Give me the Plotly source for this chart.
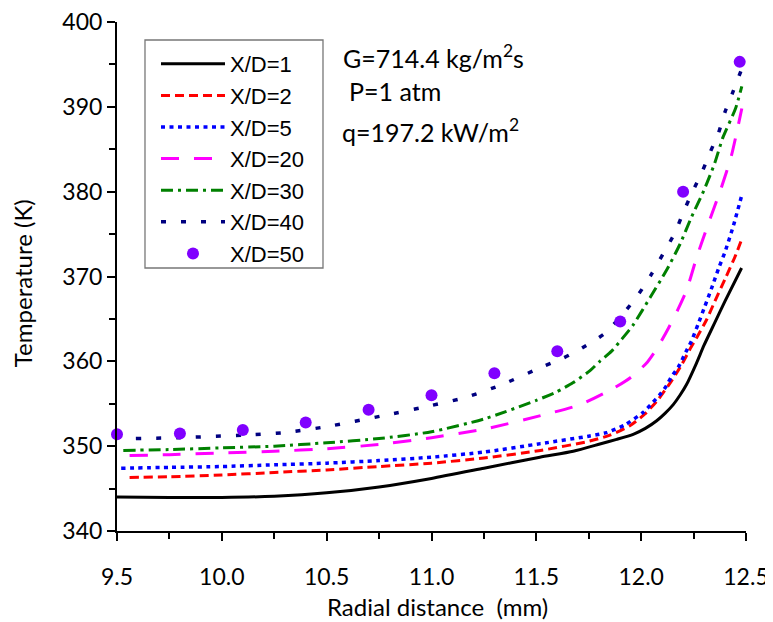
import plotly.graph_objects as go

# ---- data ----
x_xd1 = [9.5, 9.75, 10.0, 10.25, 10.5, 10.75, 11.0, 11.25, 11.517, 11.676, 11.803, 11.883, 11.962, 12.02, 12.074, 12.115, 12.153, 12.185, 12.217, 12.264, 12.30, 12.35, 12.40, 12.479]
t_xd1 = [344.0, 343.95, 343.95, 344.1, 344.5, 345.2, 346.2, 347.4, 348.7, 349.4, 350.25, 350.8, 351.4, 352.1, 353.0, 353.9, 354.9, 356.0, 357.3, 359.8, 361.9, 364.5, 367.1, 371.0]

x_xd2 = [9.56, 9.75, 10.0, 10.25, 10.5, 10.75, 11.0, 11.25, 11.52, 11.755, 11.851, 11.946, 12.018, 12.081, 12.145, 12.193, 12.232, 12.272, 12.312, 12.35, 12.40, 12.447, 12.48]
t_xd2 = [346.3, 346.4, 346.6, 346.9, 347.2, 347.6, 348.0, 348.6, 349.5, 350.6, 351.3, 352.4, 353.8, 355.5, 357.7, 359.6, 361.4, 363.1, 364.9, 367.0, 369.7, 372.3, 374.4]

x_xd5 = [9.52, 9.75, 10.0, 10.25, 10.5, 10.75, 11.0, 11.25, 11.52, 11.755, 11.835, 11.922, 12.01, 12.05, 12.09, 12.12, 12.145, 12.177, 12.213, 12.24, 12.272, 12.304, 12.34, 12.37, 12.40, 12.44, 12.48]
t_xd5 = [347.4, 347.5, 347.6, 347.8, 348.0, 348.3, 348.7, 349.3, 350.3, 351.2, 351.6, 352.5, 354.0, 355.0, 356.1, 357.1, 358.2, 359.3, 361.1, 362.4, 364.4, 366.5, 368.9, 371.0, 372.9, 376.0, 379.6]

x_xd20 = [9.56, 9.75, 10.0, 10.25, 10.5, 10.75, 11.0, 11.25, 11.52, 11.71, 11.867, 11.95, 12.026, 12.08, 12.13, 12.175, 12.217, 12.264, 12.32, 12.38, 12.43, 12.48]
t_xd20 = [348.9, 349.0, 349.2, 349.4, 349.7, 350.2, 351.0, 352.0, 353.6, 354.9, 356.8, 358.1, 359.8, 361.7, 363.9, 366.1, 368.4, 372.2, 376.2, 380.3, 384.2, 389.8]

x_xd30 = [9.53, 9.75, 10.0, 10.25, 10.5, 10.75, 11.0, 11.25, 11.5, 11.597, 11.676, 11.756, 11.803, 11.859, 11.907, 11.962, 12.042, 12.12, 12.185, 12.24, 12.30, 12.35, 12.39, 12.45, 12.48]
t_xd30 = [349.5, 349.6, 349.8, 350.0, 350.4, 350.9, 351.7, 353.2, 355.4, 356.4, 357.5, 358.9, 360.0, 361.2, 362.6, 364.3, 367.5, 370.7, 373.8, 377.0, 380.2, 383.3, 386.4, 389.8, 392.4]

x_xd40 = [9.59, 9.8, 10.1, 10.3, 10.5, 10.77, 11.0, 11.17, 11.34, 11.533, 11.63, 11.72, 11.827, 11.914, 11.99, 12.05, 12.105, 12.16, 12.20, 12.245, 12.29, 12.33, 12.37, 12.40, 12.44, 12.48]
t_xd40 = [350.9, 351.0, 351.3, 351.6, 352.3, 353.6, 354.8, 355.8, 357.3, 359.4, 360.4, 361.6, 363.3, 365.6, 368.0, 370.3, 372.7, 375.1, 377.5, 380.0, 382.3, 384.7, 387.0, 389.4, 391.9, 394.5]

x_xd50 = [9.5, 9.8, 10.1, 10.4, 10.7, 11.0, 11.3, 11.6, 11.9, 12.2, 12.47]
t_xd50 = [351.4, 351.5, 351.9, 352.8, 354.3, 356.0, 358.6, 361.2, 364.7, 380.0, 395.3]

x_ticks = [9.5, 10.0, 10.5, 11.0, 11.5, 12.0, 12.5]
x_tick_labels = ["9.5", "10.0", "10.5", "11.0", "11.5", "12.0", "12.5"]
y_ticks = [340, 350, 360, 370, 380, 390, 400]

fig = go.Figure()

line_series = [
    ("X/D=1", x_xd1, t_xd1, "#000000", "solid", 3),
    ("X/D=2", x_xd2, t_xd2, "#FF0000", "9px,5px", 3),
    ("X/D=5", x_xd5, t_xd5, "#0000FF", "4px,4.5px", 3.5),
    ("X/D=20", x_xd20, t_xd20, "#FF00FF", "18px,15px", 3),
    ("X/D=30", x_xd30, t_xd30, "#008000", "12px,5px,3px,5px", 3),
    ("X/D=40", x_xd40, t_xd40, "#000080", "5px,15px", 3.5),
]
for name, xs, ys, col, dash, w in line_series:
    fig.add_trace(go.Scatter(
        x=xs, y=ys, name=name, mode="lines",
        line=dict(color=col, dash=dash, width=w, shape="spline", smoothing=0.6),
    ))

fig.add_trace(go.Scatter(
    x=x_xd50, y=t_xd50, name="X/D=50", mode="markers",
    marker=dict(color="#8000FF", size=12),
    cliponaxis=False,
))

title_font = dict(family="Lato, sans-serif", size=24, color="black")
tick_font = dict(family="Lato, sans-serif", size=23, color="black")

# page has an 8px body margin: figure is shifted by (8, 8)
fig.update_layout(
    width=765, height=614,
    margin=dict(l=109, r=27, t=14, b=91),
    plot_bgcolor="white", paper_bgcolor="white",
    showlegend=True,
    legend=dict(
        x=0.062, y=0.9587, xanchor="left", yanchor="top",
        borderwidth=0, bgcolor="rgba(255,255,255,0)",
        font=dict(family="Liberation Sans, Arial, sans-serif", size=22, color="black"),
        itemwidth=64, tracegroupgap=0,
    ),
    xaxis=dict(
        range=[9.5, 12.5], tickmode="array", tickvals=x_ticks, ticktext=x_tick_labels,
        automargin=False, ticklabeloverflow="allow",
        showgrid=False, zeroline=False, showline=True, linecolor="black", linewidth=2,
        ticks="outside", ticklen=8, tickwidth=2, tickcolor="black",
        ticklabelstandoff=16,
        minor=dict(ticks="outside", dtick=0.25, ticklen=6, tickwidth=2, tickcolor="black", showgrid=False),
        tickfont=tick_font,
    ),
    yaxis=dict(
        range=[340, 400], tickmode="array", tickvals=y_ticks,
        automargin=False, ticklabeloverflow="allow",
        showgrid=False, zeroline=False, showline=True, linecolor="black", linewidth=2,
        ticks="outside", ticklen=8, tickwidth=2, tickcolor="black",
        minor=dict(ticks="outside", dtick=5, ticklen=6, tickwidth=2, tickcolor="black", showgrid=False),
        tickfont=tick_font,
    ),
)

# legend frame
fig.add_shape(type="rect", xref="paper", yref="paper",
              x0=0.0445, x1=0.3275, y0=0.5167, y1=0.9646,
              line=dict(color="#777777", width=1.3), fillcolor="rgba(0,0,0,0)")

# axis titles
fig.add_annotation(x=0.509, y=-0.149, xref="paper", yref="paper", xanchor="center", yanchor="middle",
                   text="Radial distance  (mm)", showarrow=False, font=title_font)
fig.add_annotation(x=-0.151, y=0.487, xref="paper", yref="paper", xanchor="center", yanchor="middle",
                   text="Temperature (K)", textangle=-90, showarrow=False, font=title_font)

ann_font = dict(family="Lato, sans-serif", size=25, color="black")
fig.add_annotation(x=0.356, y=0.9332, xref="paper", yref="paper", xanchor="left", yanchor="middle",
                   text="G=714.4 kg/m<sup>2</sup>s", showarrow=False, font=ann_font)
fig.add_annotation(x=0.366, y=0.8644, xref="paper", yref="paper", xanchor="left", yanchor="middle",
                   text="P=1 atm", showarrow=False, font=ann_font)
fig.add_annotation(x=0.355, y=0.7859, xref="paper", yref="paper", xanchor="left", yanchor="middle",
                   text="q=197.2 kW/m<sup>2</sup>", showarrow=False, font=ann_font)

fig.write_html("out.html")
